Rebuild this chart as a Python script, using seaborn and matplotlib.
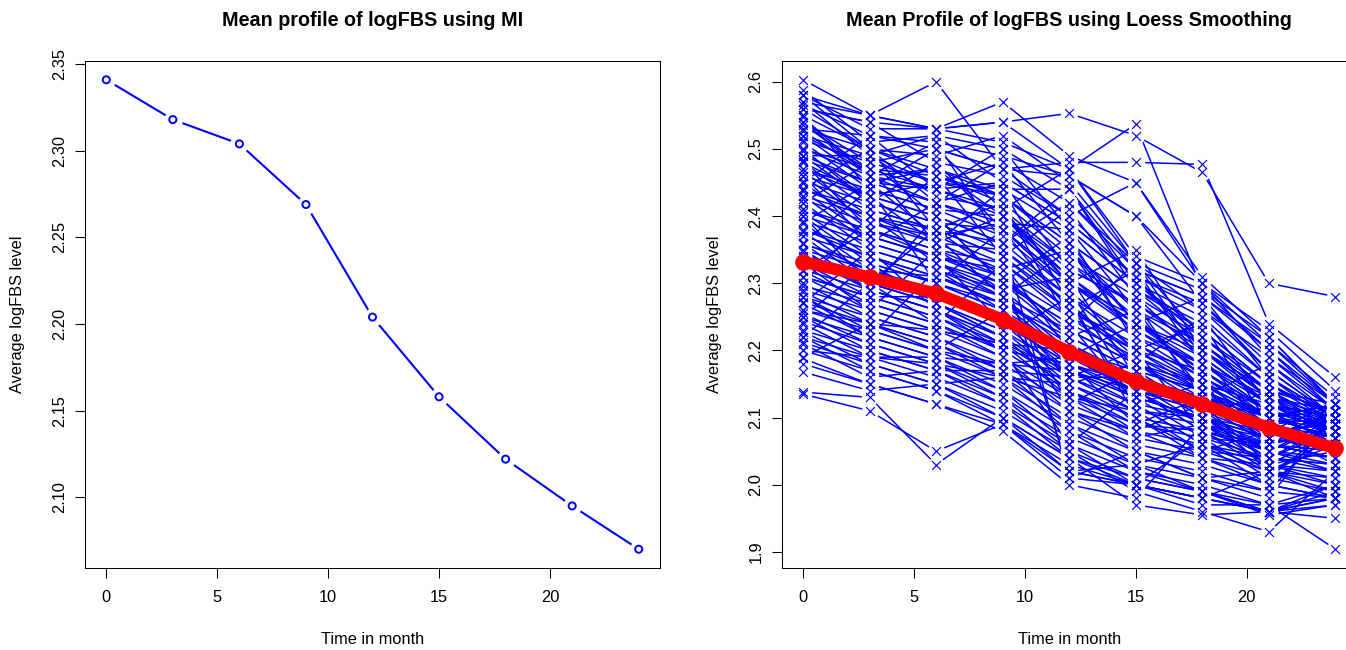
import numpy as np
import pandas as pd
import matplotlib
matplotlib.use("Agg")
import matplotlib.pyplot as plt
import seaborn as sns

# ---------------- data ----------------
months = [0, 3, 6, 9, 12, 15, 18, 21, 24]
x_ticks = [0, 5, 10, 15, 20]
mi_mean = [2.341, 2.318, 2.304, 2.269, 2.204, 2.158, 2.122, 2.095, 2.070]
loess_mean = [2.332, 2.309, 2.285, 2.246, 2.198, 2.154, 2.120, 2.085, 2.054]
left_yticks = ["2.10", "2.15", "2.20", "2.25", "2.30", "2.35"]
right_yticks = ["1.9", "2.0", "2.1", "2.2", "2.3", "2.4", "2.5", "2.6"]

# individual subject profiles (one array per visit month, same subject order)
fbs_m0 = [2.603, 2.588, 2.58, 2.58, 2.566, 2.57, 2.56, 2.56, 2.547, 2.55,
          2.54, 2.536, 2.53, 2.527, 2.52, 2.52, 2.513, 2.51, 2.50, 2.497,
          2.49, 2.49, 2.484, 2.48, 2.47, 2.466, 2.46, 2.46, 2.452, 2.45,
          2.44, 2.437, 2.43, 2.43, 2.425, 2.42, 2.41, 2.406, 2.40, 2.40,
          2.393, 2.39, 2.38, 2.377, 2.37, 2.37, 2.358, 2.36, 2.35, 2.346,
          2.34, 2.34, 2.327, 2.33, 2.32, 2.318, 2.31, 2.31, 2.296, 2.30,
          2.29, 2.287, 2.28, 2.28, 2.272, 2.27, 2.26, 2.255, 2.25, 2.25,
          2.243, 2.24, 2.23, 2.228, 2.22, 2.22, 2.212, 2.21, 2.20, 2.188,
          2.18, 2.168, 2.135, 2.138, 2.50, 2.47, 2.44, 2.41, 2.38, 2.56,
          2.53, 2.49, 2.36, 2.31, 2.26, 2.20,
          2.45, 2.55, 2.30, 2.40, 2.52, 2.22, 2.48, 2.36, 2.58, 2.28,
          2.42, 2.33, 2.50, 2.25, 2.46, 2.39, 2.54, 2.19, 2.44, 2.35,
          2.57, 2.27, 2.48, 2.32]
fbs_m3 = [2.55, 2.51, 2.55, 2.53, 2.52, 2.55, 2.54, 2.54, 2.46, 2.50,
          2.48, 2.47, 2.52, 2.46, 2.49, 2.45, 2.48, 2.44, 2.47, 2.43,
          2.49, 2.42, 2.45, 2.41, 2.44, 2.40, 2.43, 2.39, 2.42, 2.38,
          2.41, 2.37, 2.40, 2.36, 2.39, 2.35, 2.38, 2.34, 2.37, 2.33,
          2.36, 2.32, 2.35, 2.31, 2.34, 2.30, 2.33, 2.29, 2.32, 2.30,
          2.31, 2.29, 2.30, 2.28, 2.29, 2.27, 2.28, 2.26, 2.27, 2.25,
          2.26, 2.24, 2.25, 2.23, 2.24, 2.22, 2.23, 2.21, 2.22, 2.20,
          2.21, 2.19, 2.20, 2.18, 2.19, 2.17, 2.18, 2.16, 2.17, 2.15,
          2.15, 2.14, 2.11, 2.13, 2.46, 2.43, 2.40, 2.37, 2.34, 2.50,
          2.50, 2.45, 2.32, 2.28, 2.24, 2.19,
          2.52, 2.44, 2.40, 2.30, 2.47, 2.30, 2.38, 2.44, 2.50, 2.22,
          2.48, 2.26, 2.42, 2.33, 2.36, 2.45, 2.46, 2.24, 2.50, 2.29,
          2.49, 2.35, 2.43, 2.38]
fbs_m6 = [2.53, 2.52, 2.60, 2.53, 2.50, 2.53, 2.48, 2.53, 2.47, 2.49,
          2.45, 2.46, 2.51, 2.44, 2.45, 2.42, 2.50, 2.41, 2.44, 2.40,
          2.43, 2.39, 2.47, 2.38, 2.41, 2.37, 2.45, 2.36, 2.39, 2.35,
          2.38, 2.34, 2.36, 2.33, 2.37, 2.32, 2.35, 2.31, 2.34, 2.30,
          2.33, 2.29, 2.32, 2.28, 2.31, 2.27, 2.30, 2.26, 2.29, 2.27,
          2.28, 2.26, 2.27, 2.25, 2.26, 2.24, 2.25, 2.23, 2.24, 2.22,
          2.23, 2.21, 2.22, 2.20, 2.21, 2.19, 2.20, 2.18, 2.19, 2.17,
          2.18, 2.19, 2.17, 2.15, 2.16, 2.14, 2.15, 2.17, 2.14, 2.12,
          2.12, 2.15, 2.05, 2.03, 2.42, 2.40, 2.38, 2.34, 2.30, 2.46,
          2.47, 2.44, 2.31, 2.28, 2.23, 2.18,
          2.44, 2.50, 2.33, 2.38, 2.36, 2.24, 2.46, 2.30, 2.42, 2.32,
          2.40, 2.35, 2.48, 2.27, 2.42, 2.37, 2.51, 2.20, 2.38, 2.40,
          2.52, 2.26, 2.36, 2.34]
fbs_m9 = [2.51, 2.50, 2.47, 2.54, 2.47, 2.57, 2.46, 2.54, 2.44, 2.52,
          2.43, 2.42, 2.49, 2.41, 2.48, 2.39, 2.47, 2.37, 2.45, 2.36,
          2.41, 2.35, 2.43, 2.34, 2.40, 2.33, 2.44, 2.32, 2.38, 2.31,
          2.36, 2.30, 2.35, 2.29, 2.39, 2.28, 2.33, 2.27, 2.32, 2.26,
          2.30, 2.25, 2.29, 2.24, 2.27, 2.23, 2.26, 2.22, 2.25, 2.22,
          2.24, 2.21, 2.23, 2.20, 2.22, 2.19, 2.21, 2.21, 2.20, 2.17,
          2.19, 2.16, 2.18, 2.18, 2.17, 2.14, 2.16, 2.13, 2.15, 2.12,
          2.14, 2.18, 2.13, 2.10, 2.12, 2.09, 2.11, 2.17, 2.10, 2.08,
          2.09, 2.16, 2.09, 2.10, 2.38, 2.36, 2.34, 2.31, 2.27, 2.43,
          2.40, 2.40, 2.28, 2.25, 2.21, 2.16,
          2.50, 2.41, 2.28, 2.31, 2.44, 2.33, 2.34, 2.38, 2.48, 2.26,
          2.30, 2.29, 2.38, 2.22, 2.45, 2.28, 2.36, 2.26, 2.42, 2.30,
          2.45, 2.20, 2.40, 2.24]
fbs_m12 = [2.47, 2.44, 2.46, 2.553, 2.48, 2.49, 2.40, 2.47, 2.38, 2.45,
           2.36, 2.34, 2.46, 2.33, 2.42, 2.31, 2.40, 2.29, 2.39, 2.01,
           2.47, 2.27, 2.36, 2.26, 2.32, 2.25, 2.44, 2.02, 2.30, 2.23,
           2.42, 2.22, 2.28, 2.21, 2.38, 2.20, 2.26, 2.19, 2.35, 2.18,
           2.24, 2.17, 2.31, 2.16, 2.22, 2.15, 2.20, 2.14, 2.19, 2.14,
           2.18, 2.13, 2.17, 2.18, 2.16, 2.11, 2.15, 2.20, 2.14, 2.09,
           2.13, 2.08, 2.12, 2.17, 2.11, 2.06, 2.10, 2.05, 2.09, 2.04,
           2.08, 2.19, 2.07, 2.02, 2.06, 2.01, 2.05, 2.16, 2.04, 2.00,
           2.03, 2.15, 2.02, 2.04, 2.30, 2.28, 2.27, 2.25, 2.21, 2.35,
           2.31, 2.33, 2.23, 2.20, 2.17, 2.13,
           2.38, 2.30, 2.35, 2.22, 2.27, 2.20, 2.41, 2.26, 2.36, 2.16,
           2.37, 2.12, 2.29, 2.28, 2.32, 2.19, 2.44, 2.11, 2.24, 2.24,
           2.39, 2.06, 2.30, 2.18]
fbs_m15 = [2.33, 2.32, 2.40, 2.52, 2.48, 2.45, 2.31, 2.537, 2.30, 2.33,
           2.29, 2.28, 2.40, 2.27, 2.32, 2.16, 2.45, 2.14, 2.31, 2.05,
           2.34, 2.12, 2.29, 2.21, 2.27, 2.20, 2.30, 2.03, 2.24, 2.18,
           2.33, 2.17, 2.22, 2.16, 2.26, 2.15, 2.20, 2.14, 2.24, 2.13,
           2.19, 2.12, 2.23, 2.11, 2.17, 2.10, 2.16, 2.09, 2.15, 2.08,
           2.14, 2.07, 2.13, 2.15, 2.12, 2.05, 2.11, 2.17, 2.10, 2.03,
           2.09, 2.02, 2.08, 2.13, 2.07, 2.00, 2.06, 1.99, 2.05, 1.97,
           2.04, 2.14, 2.03, 2.00, 2.02, 2.00, 2.01, 2.16, 2.00, 1.98,
           2.00, 2.18, 2.00, 2.01, 2.23, 2.20, 2.19, 2.18, 2.15, 2.26,
           2.24, 2.25, 2.18, 2.16, 2.14, 2.11,
           2.30, 2.35, 2.22, 2.26, 2.18, 2.13, 2.28, 2.32, 2.24, 2.20,
           2.21, 2.17, 2.20, 2.10, 2.27, 2.24, 2.29, 2.08, 2.33, 2.12,
           2.31, 2.14, 2.25, 2.09]
fbs_m18 = [2.29, 2.28, 2.27, 2.465, 2.477, 2.30, 2.27, 2.29, 2.25, 2.26,
           2.23, 2.22, 2.30, 2.20, 2.28, 2.10, 2.31, 2.08, 2.26, 2.01,
           2.30, 2.06, 2.24, 2.15, 2.21, 2.14, 2.23, 1.99, 2.20, 2.12,
           2.22, 2.11, 2.18, 2.10, 2.21, 2.09, 2.17, 2.08, 2.19, 2.07,
           2.15, 2.06, 2.18, 2.05, 2.14, 2.04, 2.13, 2.08, 2.12, 2.04,
           2.11, 2.09, 2.10, 2.12, 2.10, 2.01, 2.09, 2.14, 2.08, 2.06,
           2.07, 1.99, 2.06, 2.10, 2.05, 1.97, 2.04, 1.96, 2.03, 1.955,
           2.02, 2.11, 2.01, 2.07, 2.00, 1.98, 1.99, 2.13, 1.98, 2.09,
           1.98, 2.15, 1.98, 1.99, 2.17, 2.15, 2.14, 2.13, 2.12, 2.19,
           2.18, 2.16, 2.14, 2.13, 2.12, 2.10,
           2.22, 2.20, 2.16, 2.14, 2.25, 2.10, 2.19, 2.18, 2.28, 2.08,
           2.16, 2.11, 2.24, 2.05, 2.13, 2.17, 2.21, 2.12, 2.19, 2.15,
           2.20, 2.09, 2.16, 2.13]
fbs_m21 = [2.20, 2.21, 2.17, 2.30, 2.24, 2.23, 2.18, 2.22, 2.16, 2.19,
           2.15, 2.14, 2.21, 2.13, 2.20, 2.05, 2.22, 2.03, 2.17, 1.99,
           2.19, 2.02, 2.16, 2.09, 2.14, 2.08, 2.15, 1.96, 2.13, 2.06,
           2.14, 2.05, 2.12, 2.04, 2.13, 2.03, 2.11, 2.02, 2.12, 2.01,
           2.10, 2.00, 2.11, 2.04, 2.09, 2.03, 2.09, 2.06, 2.08, 2.00,
           2.07, 2.05, 2.07, 2.08, 2.06, 2.02, 2.06, 2.10, 2.05, 2.04,
           2.04, 1.955, 2.03, 2.07, 2.02, 1.97, 2.01, 1.93, 2.00, 1.96,
           1.99, 2.09, 1.98, 2.06, 1.97, 2.02, 1.96, 2.11, 1.96, 2.07,
           1.96, 2.12, 1.96, 1.97, 2.11, 2.10, 2.10, 2.09, 2.08, 2.12,
           2.13, 2.10, 2.10, 2.10, 2.09, 2.08,
           2.15, 2.12, 2.10, 2.06, 2.12, 2.14, 2.08, 2.11, 2.16, 2.05,
           2.07, 2.02, 2.09, 2.08, 2.18, 2.10, 2.13, 2.03, 2.12, 2.06,
           2.14, 2.04, 2.11, 2.07]
fbs_m24 = [2.11, 2.12, 2.10, 2.28, 2.16, 2.14, 2.11, 2.12, 2.10, 2.12,
           2.09, 2.11, 2.13, 2.10, 2.12, 2.02, 2.12, 2.00, 2.10, 1.98,
           2.11, 1.99, 2.10, 2.07, 2.09, 2.06, 2.10, 1.95, 2.09, 2.04,
           2.09, 2.03, 2.08, 2.02, 2.08, 2.01, 2.08, 2.00, 2.07, 1.99,
           2.07, 1.98, 2.08, 2.03, 2.06, 2.02, 2.10, 2.05, 2.09, 1.98,
           2.11, 2.04, 2.10, 2.06, 2.09, 2.01, 2.08, 2.07, 2.10, 2.03,
           2.09, 1.97, 2.08, 2.05, 2.07, 1.904, 2.09, 2.02, 2.08, 1.97,
           2.10, 2.06, 2.11, 2.04, 1.98, 1.98, 2.00, 2.08, 1.98, 2.05,
           1.99, 2.10, 1.98, 2.00, 2.09, 2.08, 2.07, 2.06, 2.05, 2.08,
           2.11, 2.09, 2.12, 2.11, 2.10, 2.09,
           2.10, 2.08, 2.07, 2.04, 2.10, 2.08, 2.12, 2.06, 2.09, 2.09,
           2.11, 2.06, 2.05, 2.03, 2.10, 2.12, 2.07, 2.05, 2.09, 2.11,
           2.12, 2.08, 2.06, 2.10]

visits = [fbs_m0, fbs_m3, fbs_m6, fbs_m9, fbs_m12, fbs_m15, fbs_m18, fbs_m21, fbs_m24]
assert len({len(v) for v in visits}) == 1
long = pd.DataFrame(
    [(i, m, v) for m, col in zip(months, visits) for i, v in enumerate(col)],
    columns=["subject", "month", "fbs"],
)
mi_df = pd.DataFrame({"month": months, "fbs": mi_mean})
lo_df = pd.DataFrame({"month": months, "fbs": loess_mean})

# ---------------- style ----------------
sns.set_theme(style="white")
plt.rcParams["font.family"] = ["Liberation Sans", "DejaVu Sans"]
plt.rcParams["text.color"] = "black"
plt.rcParams["axes.labelcolor"] = "black"
plt.rcParams["xtick.color"] = "black"
plt.rcParams["ytick.color"] = "black"
BASE = 11.8
TITLE = 14.2

W, H = 1346, 650
fig = plt.figure(figsize=(W / 100, H / 100), dpi=100)
fig.patch.set_facecolor("white")


def px_axes(l, t, r, b):
    return fig.add_axes([l / W, 1 - b / H, (r - l) / W, (b - t) / H])


def r_range(vals):
    lo, hi = min(vals), max(vals)
    d = (hi - lo) * 0.04
    return lo - d, hi + d


ax1 = px_axes(85, 61, 660, 568)
ax2 = px_axes(781.7, 61, 1356.7, 568)

# ---- left: MI mean profile ----
sns.lineplot(data=mi_df, x="month", y="fbs", color="blue", lw=1.5, ax=ax1, zorder=2)
sns.scatterplot(data=mi_df, x="month", y="fbs", color="white", s=13.5 ** 2, linewidth=0,
                ax=ax1, zorder=3)
sns.scatterplot(data=mi_df, x="month", y="fbs", facecolor="none", edgecolor="blue",
                s=26, linewidth=1.4, ax=ax1, zorder=4)
ax1.set_xlim(*r_range(months))
ax1.set_ylim(*r_range(mi_mean))
ax1.set_yticks([float(t) for t in left_yticks])
ax1.set_yticklabels(left_yticks, rotation=90, va="center")

# ---- right: spaghetti + loess mean ----
sns.lineplot(data=long, x="month", y="fbs", units="subject", estimator=None,
             color="blue", lw=1.1, ax=ax2, zorder=2, legend=False)
sns.scatterplot(data=long, x="month", y="fbs", color="white", s=12.5 ** 2, linewidth=0,
                ax=ax2, zorder=3, legend=False)
sns.scatterplot(data=long, x="month", y="fbs", color="blue", marker="x", s=40,
                linewidth=0.85, ax=ax2, zorder=4, legend=False)
sns.lineplot(data=lo_df, x="month", y="fbs", color="red", lw=8.5, ax=ax2, zorder=5)
sns.scatterplot(data=lo_df, x="month", y="fbs", color="red", s=12 ** 2, linewidth=0,
                ax=ax2, zorder=6)
ax2.set_xlim(*r_range(months))
ax2.set_ylim(*r_range(list(long["fbs"]) + loess_mean))
ax2.set_yticks([float(t) for t in right_yticks])
ax2.set_yticklabels(right_yticks, rotation=90, va="center")

titles = ["Mean profile of logFBS using MI", "Mean Profile of logFBS using Loess Smoothing"]
for ax, title in zip([ax1, ax2], titles):
    ax.set_xticks(x_ticks)
    ax.set_xticklabels([str(t) for t in x_ticks])
    ax.tick_params(axis="both", direction="out", length=7.2, width=0.75, color="black",
                   labelsize=BASE, labelcolor="black", bottom=True, left=True)
    ax.tick_params(axis="x", pad=9)
    ax.tick_params(axis="y", pad=6)
    for sp in ax.spines.values():
        sp.set_visible(True)
        sp.set_color("black")
        sp.set_linewidth(0.75)
    ax.set_facecolor("white")
    ax.grid(False)
    ax.set_title(title, fontsize=TITLE, fontweight="bold", color="black",
                 y=(568 - 20) / 507, va="center", pad=0)
    ax.set_xlabel("Time in month", fontsize=BASE, color="black")
    ax.set_ylabel("Average logFBS level", fontsize=BASE, color="black")
    ax.xaxis.set_label_coords(0.5, (568 - 640) / 507)
    ax.xaxis.label.set_va("center")
    ax.yaxis.set_label_coords((18 - 85) / 575, 0.5)
    ax.yaxis.label.set_va("center")

fig.savefig("out.png", dpi=100, facecolor="white")
